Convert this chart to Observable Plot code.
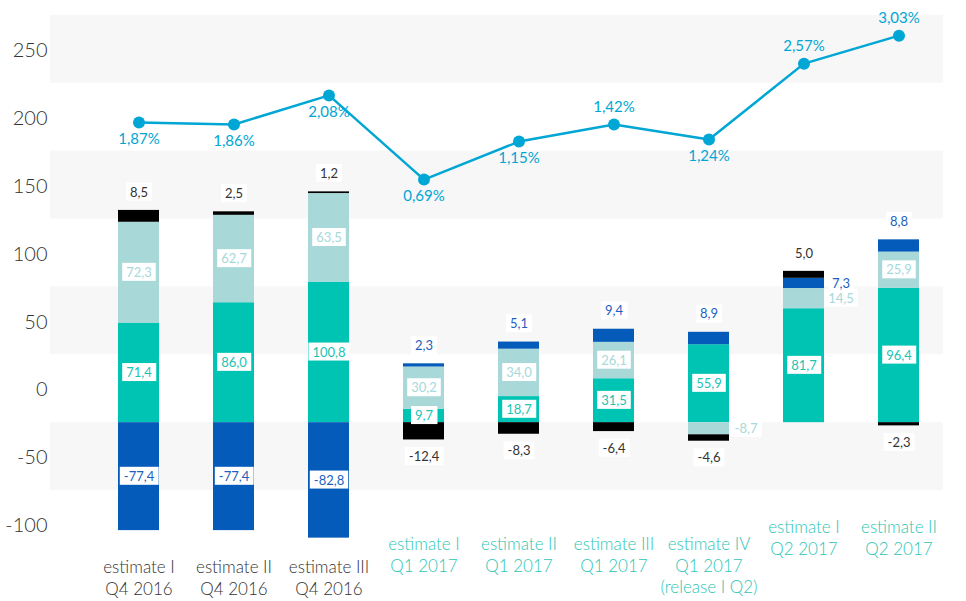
<!DOCTYPE html>
<html><head><meta charset="utf-8">
<script src="https://cdn.jsdelivr.net/npm/d3@7"></script>
<script src="https://cdn.jsdelivr.net/npm/@observablehq/plot@0.6"></script>
<style>body{margin:0;background:#fff;font-family:Lato,"Open Sans",sans-serif}</style>
</head><body><div id="chart"></div>
<script>
// ---- data ----
const categories = [
  "estimate I\nQ4 2016", "estimate II\nQ4 2016", "estimate III\nQ4 2016",
  "estimate I\nQ1 2017", "estimate II\nQ1 2017", "estimate III\nQ1 2017",
  "estimate IV\nQ1 2017\n(release I Q2)", "estimate I\nQ2 2017", "estimate II\nQ2 2017"
];
const quarters = ["Q4 2016","Q4 2016","Q4 2016","Q1 2017","Q1 2017","Q1 2017","Q1 2017","Q2 2017","Q2 2017"];
const seriesNames = ["teal", "light teal", "blue", "black"];
const tealValues      = [71.4, 86.0, 100.8, 9.7, 18.7, 31.5, 55.9, 81.7, 96.4];
const lightTealValues = [72.3, 62.7, 63.5, 30.2, 34.0, 26.1, -8.7, 14.5, 25.9];
const blueValues      = [-77.4, -77.4, -82.8, 2.3, 5.1, 9.4, 8.9, 7.3, 8.8];
const blackValues     = [8.5, 2.5, 1.2, -12.4, -8.3, -6.4, -4.6, 5.0, -2.3];
const lineValues      = [197, 195.6, 217, 155, 183, 195.6, 184.6, 240.4, 261];
const linePercents    = [1.87, 1.86, 2.08, 0.69, 1.15, 1.42, 1.24, 2.57, 3.03];
const percentAbove    = [false, false, false, false, false, true, false, true, true];
const yTicks = [-100, -50, 0, 50, 100, 150, 200, 250];
const barBase = -24;           // where the bars' zero sits on the left axis
const barUnit = 1.027;         // axis units per bar unit (bars drawn slightly taller than the axis, as in the source)
const bandEdges = [-50, 0, 50, 100, 150, 200, 250, 300]; // in bar units

// ---- styles ----
const seriesColors = ["#00c4b3", "#a8d8d8", "#055bb9", "#000000"];
const labelColors  = {"teal": "#1cc4b2", "light teal": "#a6d9d9", "blue": "#1c5fc0", "black": "#333333"};
const lineColor = "#00a6d4";

// ---- build stacked rows ----
const seriesValues = [tealValues, lightTealValues, blueValues, blackValues];
const rows = [];
categories.forEach((cat, i) => {
  let pos = barBase, neg = barBase;
  seriesNames.forEach((s, j) => {
    const v = seriesValues[j][i];
    const h = v * barUnit;
    let y1, y2;
    if (v >= 0) { y1 = pos; y2 = pos + h; pos = y2; }
    else { y1 = neg; y2 = neg + h; neg = y2; }
    rows.push({cat, i, series: s, value: v, y1, y2, mid: (y1 + y2) / 2});
  });
});
function placement(r) {
  const a = Math.abs(r.value);
  if (r.series === "teal") return "in";
  if (r.series === "light teal") return a >= 15 ? "in" : "right";
  if (r.series === "blue") return a >= 10 ? "in" : (blackValues[r.i] > 0 ? "right" : "above");
  return r.value > 0 ? "above" : "below";
}
rows.forEach(r => { r.place = placement(r); r.label = r.value.toFixed(1).replace(".", ","); });

const bands = [];
for (let k = 0; k < bandEdges.length - 1; k += 2) bands.push({y1: barBase + bandEdges[k], y2: barBase + bandEdges[k + 1]});

const linePts = categories.map((cat, i) => ({cat, v: lineValues[i], pct: linePercents[i].toFixed(2).replace(".", ",") + "%", above: percentAbove[i]}));
const xLabels = categories.map((cat, i) => ({cat, q: quarters[i]}));

const labelOpts = (place, extra) => ({
  x: "cat", y: place === "above" || place === "below" ? "y2" : "mid", text: "label",
  fill: d => labelColors[d.series], fontSize: 13, className: "vlabel", ...extra
});

const plot = Plot.plot({
  width: 966, height: 601,
  marginLeft: 50, marginRight: 23, marginTop: 0, marginBottom: 0,
  style: {fontFamily: "Lato, 'Open Sans', sans-serif", background: "#fff"},
  x: {domain: categories, range: [64.5, 973.5], padding: 0.568, axis: null},
  y: {domain: [-155.7, 286.9], range: [601, 0], axis: null},
  color: {domain: seriesNames, range: seriesColors},
  marks: [
    Plot.rect(bands, {y1: "y1", y2: "y2", fill: "#f7f7f7"}),
    Plot.axisY({ticks: yTicks, tickSize: 0, tickPadding: 3, fontSize: 20, fill: "#333", fontWeight: 300, tickFormat: d => String(d)}),
    Plot.barY(rows, {x: "cat", y1: "y1", y2: "y2", fill: "series"}),
    Plot.text(rows.filter(r => r.place === "in"), labelOpts("in")),
    Plot.text(rows.filter(r => r.place === "right"), labelOpts("right", {dx: 37})),
    Plot.text(rows.filter(r => r.place === "above"), labelOpts("above", {dy: -18})),
    Plot.text(rows.filter(r => r.place === "below"), labelOpts("below", {dy: 17})),
    Plot.line(linePts, {x: "cat", y: "v", stroke: lineColor, strokeWidth: 2.5}),
    Plot.dot(linePts, {x: "cat", y: "v", fill: lineColor, r: 6}),
    Plot.text(linePts.filter(d => !d.above), {x: "cat", y: "v", text: "pct", fill: lineColor, fontSize: 15, dy: 17}),
    Plot.text(linePts.filter(d => d.above), {x: "cat", y: "v", text: "pct", fill: lineColor, fontSize: 15, dy: -17}),
    ...[["Q4 2016", -44, "#333"], ["Q1 2017", -67, "#2ec6b4"], ["Q2 2017", -84, "#2ec6b4"]].map(([q, dy, c]) =>
      Plot.text(xLabels.filter(d => d.q === q), {x: "cat", text: "cat", frameAnchor: "bottom", lineAnchor: "top", dy, fill: c, fontSize: 17, fontWeight: 300, lineHeight: 1.28}))
  ]
});
document.getElementById("chart").appendChild(plot);

// white boxes behind value labels
plot.querySelectorAll("g.vlabel text").forEach(t => {
  const b = t.getBBox();
  const rect = document.createElementNS("http://www.w3.org/2000/svg", "rect");
  rect.setAttribute("x", b.x - 4); rect.setAttribute("y", b.y - 1);
  rect.setAttribute("width", b.width + 8); rect.setAttribute("height", b.height + 2);
  rect.setAttribute("fill", "#fff");
  const tr = t.getAttribute("transform"); if (tr) rect.setAttribute("transform", tr);
  t.parentNode.insertBefore(rect, t);
});
</script></body></html>
